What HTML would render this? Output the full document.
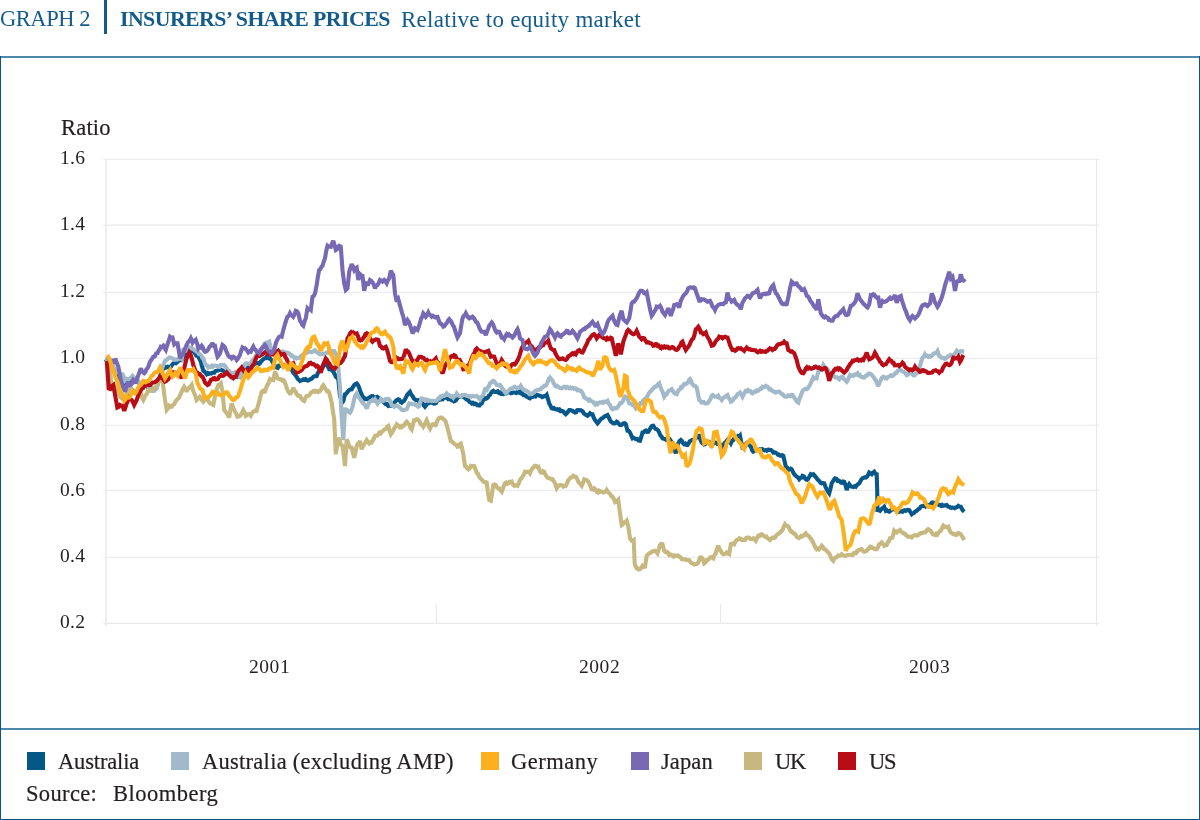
<!DOCTYPE html>
<html><head><meta charset="utf-8">
<style>
html,body{margin:0;padding:0;background:#fff;}
body{width:1200px;height:820px;position:relative;overflow:hidden;font-family:"Liberation Serif",serif;color:#231f20;}
.t{position:absolute;white-space:nowrap;line-height:1;will-change:transform;}
.sw{position:absolute;top:752px;width:18px;height:18px;}
.lg{top:750.8px;font-size:22.5px;-webkit-text-stroke:0.2px #231f20;}
.ax{font-size:19.5px;letter-spacing:0.35px;}
</style></head><body>
<div class="t" style="left:-0.5px;top:8.4px;font-size:22.5px;letter-spacing:-0.45px;color:#125b8a;">GRAPH 2</div>
<div style="position:absolute;left:104.4px;top:0;width:2.2px;height:33.6px;background:#125b8a;"></div>
<div class="t" style="left:120px;top:8.8px;font-size:21.8px;letter-spacing:-0.55px;color:#125b8a;"><b>INSURERS’ SHARE PRICES</b></div>
<div class="t" style="left:401px;top:8px;font-size:23px;letter-spacing:0.27px;color:#125b8a;">Relative to equity market</div>
<div style="position:absolute;left:0;top:56px;width:1200px;height:2px;background:#4d8aaa;"></div>
<div style="position:absolute;left:0;top:728px;width:1200px;height:2px;background:#4d8aaa;"></div>
<div style="position:absolute;left:0;top:56px;width:1px;height:764px;background:#0a5583;"></div>
<div style="position:absolute;left:1199px;top:56px;width:1px;height:764px;background:#0a5583;"></div>
<div style="position:absolute;left:0;top:819px;width:1200px;height:1px;background:#0a5583;"></div>
<svg id="chart" width="1200" height="820" style="position:absolute;left:0;top:0">
<g stroke="#e9e9eb" stroke-width="1.1" fill="none">
<path d="M103.3 159.3H1099M103.3 225.1H1099M103.3 292.2H1099M103.3 358.2H1099M103.3 425.3H1099M103.3 490.3H1099M103.3 557.2H1099M103.3 623.4H1099"/>
<path d="M1096.5 159V626M436.3 604V623M720.5 604V623"/>
<path d="M106.1 159V626" stroke-width="2" stroke="#eeeef2"/>
</g>
<g id="series" fill="none" stroke-width="4.1" stroke-linejoin="miter" stroke-miterlimit="2.5" stroke-linecap="butt">
<path stroke="#07588a" d="M105,359.2 106.2,359.9 107.5,360.6 108.8,362.5 110,363.3 111.1,364.2 112.2,366.7 113.3,368.3 114.4,370.3 115.6,372 116.7,375 117.8,376.7 118.9,377.5 120,380 121.2,382.4 122.5,385 123.8,385.5 125,387.5 126.2,384.7 127.5,383.3 128.8,382.4 130,381.7 131.2,381 132.5,379.2 133.8,379.3 135,380.8 136.1,380.6 137.2,381.6 138.3,381.7 139.4,383.6 140.6,384 141.7,385 142.9,385 144.2,386.3 145.4,384.8 146.7,385.8 147.8,387.3 148.9,387.1 150,388.3 151.1,388.2 152.2,388.7 153.3,390 154.4,388.8 155.6,388.9 156.7,387.5 157.8,383.3 158.9,380.4 160,376.7 161.1,374.2 162.2,370.9 163.3,368.3 164.4,368.1 165.6,367 166.7,367.5 167.8,366.7 168.9,367 170,367.5 171.1,366.4 172.2,364.6 173.3,363.3 174.6,363 175.8,363.3 177.1,362.2 178.3,360.8 179.4,360.4 180.6,359.9 181.7,360 182.8,358.3 183.9,355.9 185,353.3 186.1,352.3 187.2,352.4 188.3,351.7 189.4,351.2 190.6,351.2 191.7,350 192.8,351.5 193.9,351.8 195,353.3 196.1,355.3 197.2,354.9 198.3,356.7 199.6,359.1 200.8,361.7 202.1,366.7 203.3,370.8 204.4,371.3 205.6,373 206.7,374.2 207.8,373.1 208.9,373.9 210,373.3 211.1,373.5 212.2,372.9 213.3,372.5 214.4,372.6 215.6,371 216.7,370.8 217.8,370.6 218.9,369.9 220,369.2 221.1,369.9 222.2,370.2 223.3,370.8 224.4,372 225.6,372.7 226.7,372.5 227.8,373 228.9,373.9 230,374.2 231.1,373.7 232.2,375.1 233.3,375 234.4,375.5 235.6,376.4 236.7,375.8 237.8,376.7 238.9,376 240,376.7 241.1,374.8 242.2,373.7 243.3,371.7 244.4,370 245.6,370 246.7,369.2 247.8,367.8 248.9,366.8 250,366.7 251.1,365.3 252.2,366 253.3,365 254.4,363.8 255.6,363.4 256.7,363.3 257.8,363.1 258.9,364 260,363.3 261.1,361.2 262.2,360.5 263.3,359.2 264.4,358.5 265.6,358.2 266.7,356.7 267.8,357.8 268.9,358.4 270,358.3 271.1,359.6 272.2,361.5 273.3,363.3 274.4,364.4 275.6,366.8 276.7,367.5 277.8,367.8 278.9,365.7 280,365.8 281.1,365 282.2,364.8 283.3,365 284.4,364.8 285.6,365.5 286.7,365.8 287.8,366.5 288.9,366.5 290,367.5 291.1,368.3 292.2,370.8 293.3,372.7 294.4,373.8 295.6,375.6 296.7,376.8 297.8,379 298.9,379.9 300,381 301.1,380.5 302.2,380.1 303.3,379.3 304.4,379.9 305.6,379.1 306.7,380.2 307.8,380.6 308.9,380.1 310,379.3 311.1,379.1 312.2,378.2 313.3,376.8 314.4,376.3 315.6,376.1 316.7,376 317.9,372.8 319.2,371 320.3,370.1 321.4,368 322.5,367.7 323.6,365.5 324.7,364.4 325.8,363.5 326.9,364.8 328.1,367.1 329.2,369.3 330.3,369.1 331.4,369.5 332.5,371 333.6,372.3 334.7,374.1 335.8,376.8 337.1,377.8 338.3,379.3 340,396 341,398.5 342,402.7 343.3,401 345,394.3 346.1,393.9 347.2,392.3 348.3,391 349.4,389.8 350.6,389.4 351.7,389.3 352.9,387 354.2,385.2 355.4,384.1 356.7,383.5 357.9,384.9 359.2,387.7 360.4,391.6 361.7,394.3 362.8,396.9 363.9,397.6 365,399.3 366.1,399.3 367.2,398.6 368.3,399.3 369.4,397.5 370.6,396.8 371.7,396 372.8,396.1 373.9,397.7 375,397.7 376.1,397.1 377.2,396.8 378.3,397.7 379.6,399.3 380.8,399.3 381.9,400.5 383.1,400.9 384.2,402.7 385.6,403.9 386.9,404 388.3,406 389.4,405.5 390.6,405.7 391.7,404.3 392.8,404.1 393.9,403 395,401.8 396.1,400.5 397.2,399.9 398.3,399.3 399.4,399.8 400.6,402.1 401.7,402.7 402.8,401.6 403.9,400.9 405,399.3 406.1,397.1 407.2,394.9 408.3,393.5 410,391.8 411.2,394.5 412.5,396 413.8,398.5 415,399.3 416.1,400.2 417.2,400.5 418.3,400.2 419.4,401.6 420.6,402.3 421.7,402.7 422.8,403.6 423.9,405.5 425,406.8 426.1,405.4 427.2,403.8 428.3,403.5 429.4,402.4 430.6,402.6 431.7,402.7 432.8,402.5 433.9,403.6 435,403.5 436.1,402.9 437.2,400.6 438.3,399.3 439.4,399.8 440.6,399.6 441.7,398.5 442.8,399.1 443.9,397.7 445,397.7 446.1,397.7 447.2,398.3 448.3,399.3 449.4,399.1 450.6,399.4 451.7,400.2 452.8,400.7 453.9,401.5 455,401 456.1,400.2 457.2,398.2 458.3,396.8 459.4,396.8 460.6,396.8 461.7,396 462.8,395.8 463.9,397.4 465,397.7 466.1,399.3 467.2,399.9 468.3,400.2 469.4,401.8 470.6,402.4 471.7,403.5 472.8,402.9 473.9,404 475,403.5 476.1,403.8 477.2,405.2 478.3,405.2 479.4,405.5 480.6,403.9 481.7,403.5 482.9,400.4 484.2,397.7 485.4,398.8 486.7,398.3 487.8,397.6 488.9,395.5 490,395 491.1,392.9 492.2,391.6 493.3,390.8 494.4,391.8 495.6,392 496.7,391.7 497.8,391.3 498.9,392.8 500,392.5 501.1,393.9 502.2,393.9 503.3,394.2 504.6,393.6 506,393.6 507.3,392.5 508.7,392 510,392.5 511.2,393.3 512.5,392.8 513.8,392.5 515,392.5 516.2,393.1 517.5,392 518.8,392.6 520,391.7 521.1,393.4 522.2,393.4 523.3,395 524.4,395.1 525.6,395.8 526.7,396.7 527.8,396.8 528.9,397.9 530,398.3 531.1,397.3 532.2,397.1 533.3,396.7 534.4,395.5 535.6,396.3 536.7,395 537.8,395 538.9,395.5 540,395.8 541.1,396.3 542.2,397.1 543.3,396.7 544.4,396 545.6,396.3 546.7,395 548,399.2 549.2,403.3 550.5,405.9 551.7,408.3 552.8,408.6 553.9,408 555,409.2 556.1,409.4 557.2,409.2 558.3,410 559.4,409.4 560.6,411.1 561.7,410.8 563.1,411.3 564.4,413 565.8,414.2 566.9,413.2 568.1,411.5 569.2,410 570.3,410 571.4,410.6 572.5,410.8 573.8,411.7 575,412.5 576.1,412.2 577.2,410.1 578.3,410 579.4,410.4 580.6,410.1 581.7,410.8 582.8,411.5 583.9,413.6 585,414.2 586.2,415 587.5,415.8 588.8,414.7 590,413.3 591.2,414.2 592.5,414.2 593.8,417.8 595,420 596.2,421.5 597.5,423.3 598.6,422.1 599.7,420.6 600.8,419.2 601.9,418.4 603.1,417.9 604.2,416.7 605.3,416 606.4,415.6 607.5,415 608.8,417.5 610,420 611.1,421.9 612.2,422.6 613.3,423.3 614.4,423.4 615.6,423 616.7,421.7 617.8,422.4 618.9,424 620,425 621.1,425.2 622.2,424.5 623.3,423.3 624.5,423.1 625.8,424.2 627.5,430.8 628.8,431 630,432.5 631.2,435.3 632.5,438.3 633.6,437.8 634.7,438.4 635.8,439.2 637.2,439 638.6,440.6 640,440.8 641.2,437.2 642.5,432.5 643.8,432.4 645,430.8 646.1,430.5 647.2,431.8 648.3,431.7 649.5,429.9 650.8,427.5 652,426 653.3,425.8 654.4,427.6 655.6,428.9 656.7,429.2 658,430.3 659.2,432.5 660.3,435.2 661.4,436.2 662.5,438.3 663.8,438.7 665,439.2 666.1,439.8 667.2,439.2 668.3,438.3 669.5,438.9 670.8,440.8 672.5,443.3 673.6,446.5 674.7,450 675.8,453.3 677,448 678.3,443.3 679.5,441.1 680.8,440 681.9,441.1 683.1,443.2 684.2,444.2 685.3,443.6 686.4,444.8 687.5,445 688.6,443.5 689.7,441.3 690.8,440.8 691.9,440 693.1,440 694.2,439.2 695.5,438.4 696.7,437.5 698,435.9 699.2,435.8 700.5,440 701.7,442.5 702.8,443.6 703.9,444.5 705,444.2 706.1,442.7 707.2,442.1 708.3,441.7 709.4,442.2 710.6,444.9 711.7,445.8 712.8,444.3 713.9,442.9 715,442.5 716.1,442.6 717.2,443.8 718.3,443.3 719.4,445 720.6,445.1 721.7,446.7 722.8,444.7 723.9,444.7 725,442.5 726.2,441.4 727.5,440 728.6,441.5 729.7,441.5 730.8,443.3 731.9,440.8 733.1,440.3 734.2,438.3 735.5,437.8 736.7,437.5 737.8,436.2 738.9,437.2 740,435.8 741.2,441.9 742.5,447.5 743.8,447.2 745,445.8 746.2,443.4 747.5,442.5 748.8,444.8 750,445.8 751.1,447 752.2,450.4 753.3,451.7 754.4,451.1 755.6,450.3 756.7,450 757.8,449.8 758.9,450.2 760,449.2 761.1,449 762.2,449.1 763.3,450 764.4,450.3 765.6,450.1 766.7,450.8 767.8,449.8 768.9,449.7 770,450 771.1,450 772.2,451.1 773.3,452.5 774.4,452.4 775.6,452.7 776.7,453.3 777.8,454.6 778.9,454.6 780,455.8 781.1,455.8 782.2,455.2 783.3,455.8 784.5,461 785.8,466.7 787,467.5 788.3,470 789.4,469.3 790.6,468.6 791.7,469.2 793,472.1 794.2,474.2 795.5,475.5 796.7,476.7 798,477.4 799.2,479.2 800.3,478 801.4,477.7 802.5,475.8 803.8,476.3 805,478.3 806.2,479.7 807.5,480 808.6,477.9 809.7,476.1 810.8,474.2 812,474.8 813.3,474.2 814.4,475.4 815.6,476.9 816.7,478.3 818,479.9 819.2,480.8 820.5,482.9 821.7,483.3 823,483 824.2,483.3 825.5,486.8 826.7,489.2 828,491.6 829.2,493.3 830.5,488.5 831.7,483.3 832.8,481.5 833.9,479.7 835,478.3 836.2,478.7 837.5,480.8 838.6,480.7 839.7,481.2 840.8,482.5 841.9,482.7 843.1,481.5 844.2,481.7 845.5,485.2 846.7,490 848,486.4 849.2,484.2 850.3,485.6 851.4,486.5 852.5,486.7 853.6,487 854.7,486.3 855.8,486.7 856.9,485.1 858.1,484.1 859.2,483.3 860.3,481.6 861.4,479.4 862.5,478.3 863.6,477.9 864.7,477.3 865.8,477.5 866.9,476.7 868.1,475 869.2,472.5 870.5,473.4 871.7,474.2 873,472.5 874.2,471.7 875.5,473.8 876.7,474.2 877.2,490 877.5,510 878.8,510.1 880,510.8 881.2,509.3 882.5,508.3 884.2,506.7 885.8,510.8 886.9,510.2 888.1,511.2 889.2,511.7 890.3,510.8 891.4,510 892.5,509.2 893.6,508.9 894.7,509.7 895.8,510 896.9,509.7 898.1,510.7 899.2,511.7 900.3,511 901.4,511.5 902.5,511.7 903.6,510.6 904.7,510.2 905.8,510.8 906.9,510.2 908.1,509.8 909.2,510 910.5,512.3 911.7,514.2 912.8,513.4 913.9,513 915,511.7 916.1,511.2 917.2,510.4 918.3,509.2 919.5,508.6 920.8,506.7 921.9,506.2 923.1,505.8 924.2,505.8 925.3,506.4 926.4,504.6 927.5,505 928.6,505.1 929.7,504.7 930.8,504.2 932,502.5 933.3,502.5 934.4,503.4 935.6,503.7 936.7,503.3 937.8,504.1 938.9,504.9 940,505 941.1,505.8 942.2,504.9 943.3,505.8 944.4,505.6 945.6,505.3 946.7,505 948,506.5 949.2,506.7 950.3,507.5 951.4,507.8 952.5,507.5 953.6,507.7 954.7,508.2 955.8,507.5 957,507 958.3,505.8 959.5,506.6 960.8,506.7 962.5,510 964.2,511.7"/>
<path stroke="#a1b9c9" d="M105,359.2 106.2,359.3 107.5,359.6 108.8,360.4 110,361.7 111.1,363.1 112.2,364.3 113.3,366.7 114.4,369 115.6,370.1 116.7,371.7 117.8,372.5 118.9,373 120,373.3 121.2,374.1 122.5,374.2 123.8,377.1 125,380 126.2,378.7 127.5,379.2 128.8,379.3 130,378.3 131.2,377.5 132.5,375.8 133.8,377.1 135,378.3 136.2,379.2 137.5,380 138.8,382.4 140,384.2 141.1,383.1 142.2,384 143.3,383.3 144.4,383.4 145.6,383.7 146.7,385 147.8,385.7 148.9,387.6 150,388.3 151.1,388.6 152.2,390.4 153.3,390.8 154.4,390.8 155.6,389.1 156.7,388.3 157.8,384.2 158.9,380.5 160,376.7 161.2,372 162.5,366.7 163.8,364.2 165,360.8 166.1,360.2 167.2,359.4 168.3,358.3 169.4,357.5 170.6,357.7 171.7,358.3 172.8,358.4 173.9,359.9 175,360 176.1,359.4 177.2,359.6 178.3,359.2 179.4,358.3 180.6,358.4 181.7,359.2 183.3,350 184.4,349.9 185.6,350.8 186.7,350.8 187.8,350 188.9,348.9 190,347.5 191.1,347.7 192.2,348.7 193.3,349.2 194.4,350 195.6,350.8 196.7,351.7 197.8,351.8 198.9,354.1 200,354.2 201.1,355 202.2,357.8 203.3,358.3 204.6,362.4 205.8,365 207.1,365.4 208.3,367.5 209.4,366.9 210.6,366.9 211.7,365.8 212.8,366.6 213.9,365.7 215,365.8 216.1,365.7 217.2,365.9 218.3,366.7 219.4,366.9 220.6,365 221.7,365 222.8,365.4 223.9,364.9 225,365.8 226.1,367.5 227.2,369.9 228.3,370.8 229.4,371 230.6,373 231.7,373.3 232.8,373 233.9,373.5 235,372.5 236.1,374 237.2,374.2 238.3,375.8 239.6,377 240.8,376.7 242.1,371.7 243.3,366.7 244.4,364.7 245.6,363.5 246.7,363.3 247.8,363.6 248.9,363.8 250,364.2 251.1,362.4 252.2,360.8 253.3,360 254.4,358.1 255.6,356.3 256.7,355 257.8,353.9 258.9,350.8 260,350 261.1,349.1 262.2,347.8 263.3,345.8 264.4,344 265.6,344.4 266.7,342.5 267.9,342.5 269.2,341.7 270.4,346.6 271.7,350 272.8,350.5 273.9,351.4 275,352.5 276.4,352 277.8,352.9 279.2,351.7 280.6,351.9 281.9,351.4 283.3,351.7 284.4,352.1 285.6,352.4 286.7,353.3 287.8,352.8 288.9,353.2 290,354.2 291.1,355.7 292.2,355.5 293.3,356.8 294.4,358.2 295.6,357.5 296.7,358.5 297.8,357.8 298.9,358 300,357.7 301.1,356 302.2,355.2 303.3,354.3 304.4,354.3 305.6,353.3 306.7,351.8 307.8,352.4 308.9,352 310,351.8 311.2,352.1 312.5,351.8 313.8,350.7 315,350.2 316.2,351.8 317.5,352.7 318.6,352.4 319.7,354.2 320.8,354.3 321.9,353.9 323.1,354.2 324.2,353.5 325.3,353.5 326.4,352.6 327.5,352.7 328.6,351.6 329.7,352.9 330.8,351.8 331.9,350.9 333.1,351.2 334.2,351 335.4,353.2 336.7,356 338.3,367.7 340,387.7 341.7,417.7 343.3,440.2 345,409.3 346.2,409.4 347.5,410.2 348.8,411.9 350,412.7 351.2,410.6 352.5,406.8 353.8,401 355,396 356.7,393.5 357.9,395.9 359.2,397.7 360.4,399.4 361.7,401.8 362.8,403 363.9,403.9 365,405.2 366.7,408.5 367.9,405 369.2,402.7 370.4,401.2 371.7,401 372.8,399.9 373.9,400.6 375,399.3 376.2,401.4 377.5,403.5 378.6,401.6 379.7,401.4 380.8,399.3 382.1,401 383.3,401 384.4,400.3 385.6,399.2 386.7,399.3 387.9,398.7 389.2,399.3 390.4,401.5 391.7,405.2 392.9,405.7 394.2,406.8 395.3,405.8 396.4,405.8 397.5,406 398.6,406.4 399.7,407.8 400.8,408.5 401.9,409.8 403.1,410.1 404.2,410.2 405.4,409.6 406.7,409.3 407.9,406.2 409.2,403.5 410.3,403.8 411.4,403.8 412.5,404.3 413.6,404.3 414.7,404.1 415.8,405.2 416.9,405.1 418.1,406.6 419.2,406 420.4,401.6 421.7,398.5 422.8,398.8 423.9,399.3 425,399.3 426.1,400.5 427.2,399.9 428.3,401 429.4,400.6 430.6,400.5 431.7,401 432.8,400.8 433.9,400.9 435,401 436.1,401 437.2,400 438.3,398.5 439.4,398.6 440.6,396.5 441.7,396.8 442.9,395.6 444.2,396 445.4,395.1 446.7,393.5 447.8,395 448.9,395.1 450,396 451.1,396.7 452.2,396.2 453.3,397.7 454.4,396.1 455.6,395.7 456.7,393.5 457.8,394.9 458.9,395.8 460,396 461.1,396.6 462.2,395 463.3,395.2 464.4,394.8 465.6,395.1 466.7,396 467.8,396 468.9,396.3 470,396 471.1,396.8 472.2,396.4 473.3,396 474.4,396.3 475.6,396.5 476.7,396 477.8,397 478.9,398.3 480,399.3 481.2,396.8 482.5,396 483.8,393.2 485,389.3 486.7,390 487.8,387.3 488.9,386.3 490,383.3 491.1,382.7 492.2,381.3 493.3,380.8 494.4,381.5 495.6,383.2 496.7,385 497.8,385.2 498.9,385.4 500,385 501.2,386.4 502.5,389.2 503.6,389.8 504.7,392 505.8,393.3 506.9,392.3 508.1,390.9 509.2,390 510.6,388.7 511.9,388.5 513.3,387.5 514.7,386.9 516.1,387.7 517.5,388.3 518.6,387.4 519.7,387.5 520.8,385.8 521.9,387.5 523.1,389.3 524.2,390 525.3,390.5 526.4,390.7 527.5,391.7 528.6,392.1 529.7,394.2 530.8,394.2 531.9,394 533.1,392.7 534.2,392.5 535.3,390.8 536.4,390.8 537.5,390 538.6,390 539.7,389.3 540.8,389.2 541.9,387.6 543.1,387.2 544.2,385.8 545.5,385.8 546.7,384.2 547.8,381.5 548.9,378.9 550,377.5 551.2,378.9 552.5,380.8 553.8,383.2 555,385.8 556.1,386.4 557.2,385.9 558.3,386.7 559.4,387.8 560.6,388.2 561.7,388.3 562.8,387.8 563.9,386.7 565,386.7 566.1,387.8 567.2,386.9 568.3,387.5 569.4,388.3 570.6,387.5 571.7,388.3 572.8,387.8 573.9,388.8 575,388.3 576.1,388.5 577.2,390.2 578.3,390 579.4,390.6 580.6,390.6 581.7,391.7 583,394.1 584.2,397.5 585.3,397.9 586.4,398.9 587.5,399.2 588.6,400.5 589.7,399.6 590.8,400.8 591.9,401.4 593.1,401.9 594.2,403.3 595.3,404.5 596.4,403.3 597.5,404.2 598.6,402.8 599.7,402.3 600.8,402.5 601.9,402 603.1,402.7 604.2,401.7 605.3,402.1 606.4,401.5 607.5,400.8 608.8,403.8 610,405 611.2,407.9 612.5,409.2 613.6,408.6 614.7,408 615.8,408.3 616.9,408 618.1,406.5 619.2,405 620.3,403.1 621.4,403.1 622.5,401.7 623.8,399 625,396.7 626.2,397.3 627.5,398.3 629.2,403.3 630.3,403.6 631.4,403.8 632.5,405 633.6,405.2 634.7,406.8 635.8,408.3 636.9,406.9 638.1,406.9 639.2,405 640.3,403.2 641.4,403.6 642.5,401.7 643.6,400 644.7,399.2 645.8,398.3 647,396.8 648.3,394.2 650,391.7 651.2,391 652.5,389.2 653.6,388.2 654.7,386.7 655.8,386.7 656.9,385.5 658.1,384.2 659.2,383.3 660.5,387.4 661.7,390 663,392.8 664.2,396.7 665.3,395.1 666.4,394.6 667.5,392.5 668.9,390.6 670.3,390.1 671.7,389.2 673.3,391.7 674.4,393.1 675.6,393.8 676.7,394.2 677.8,391.7 678.9,390 680,389.2 681.1,387 682.2,387.2 683.3,385 684.4,384 685.6,384.3 686.7,383.3 687.8,382.7 688.9,380.3 690,379.2 691.1,380.7 692.2,383.9 693.3,385 694.4,386 695.6,386.2 696.7,387.5 698,394.1 699.2,400 700.5,400.9 701.7,402.5 702.8,402.4 703.9,402.1 705,403.3 706.1,403.5 707.2,403.5 708.3,402.5 709.4,400.5 710.6,398.8 711.7,395.8 712.8,395.2 713.9,395.9 715,396.7 716.1,396.4 717.2,396.9 718.3,395.8 719.4,398 720.6,398.4 721.7,400 722.8,398.5 723.9,397.7 725,396.7 726.2,395.8 727.5,395 728.6,398 729.7,398.9 730.8,401.7 731.9,401.1 733.1,399.9 734.2,398.3 735.3,397.5 736.4,396.1 737.5,394.2 738.8,393.5 740,392.5 741.2,394.3 742.5,396.7 743.6,394.4 744.7,392.5 745.8,390.8 746.9,391.3 748.1,390 749.2,390.8 750.3,391.1 751.4,392.9 752.5,393.3 753.6,392.3 754.7,391.4 755.8,391.7 756.9,390.3 758.1,390.7 759.2,390 760.3,388.6 761.4,388.7 762.5,386.7 763.6,387.1 764.7,387 765.8,385.8 766.9,386.5 768.1,387.3 769.2,389.2 770.3,389 771.4,390.3 772.5,390.8 773.6,391.7 774.7,391.8 775.8,392.5 776.9,391.8 778.1,391.8 779.2,391.7 780.3,392.7 781.4,393.7 782.5,394.2 783.6,395.5 784.7,396.5 785.8,396.7 786.9,396.7 788.1,395.4 789.2,395.8 790.3,396.1 791.4,394.9 792.5,395 793.6,396.8 794.7,398.1 795.8,400 797,401.7 798.3,402.5 799.5,398.6 800.8,395.8 802,392.4 803.3,390 804.4,389.3 805.6,388.8 806.7,389.2 807.8,388.5 808.9,386.5 810,385 811.1,382.2 812.2,379.8 813.3,377.5 814.4,378.7 815.6,378 816.7,378.3 818,372.8 819.2,368.3 820.5,369.7 821.7,370 823.3,365 824.5,366.9 825.8,368.3 826.9,370.3 828.1,369.9 829.2,371.7 830.3,372.5 831.4,373.9 832.5,374.2 833.6,375.9 834.7,377.1 835.8,377.5 836.9,377.2 838.1,378.3 839.2,379.2 840.3,377.7 841.4,377 842.5,376.7 843.9,379.2 845.3,380.2 846.7,381.7 847.8,380.2 848.9,377 850,375 851.1,375.9 852.2,375.4 853.3,375.8 854.7,374.5 856.1,374.6 857.5,373.3 858.6,375.2 859.7,374.9 860.8,376.7 861.9,377.1 863.1,377.4 864.2,377.5 865.3,376.2 866.4,375.6 867.5,375 868.8,373.6 870,373.5 871.2,374.2 872.5,376 873.6,377 874.7,379 875.8,380.2 877,383.4 878.3,386 879.5,382.6 880.8,380.2 882,377.6 883.3,376.8 884.4,377.1 885.6,378.3 886.7,378.5 887.8,377.1 888.9,376.5 890,376 891.1,375.2 892.2,376 893.3,375.2 894.4,374.5 895.6,372.7 896.7,372.7 897.8,370.8 898.9,370.2 900,369.3 901.1,370.2 902.2,371.2 903.3,371.8 904.4,372.2 905.6,373.5 906.7,375.2 907.8,374.7 908.9,373.4 910,372.7 911.1,373.1 912.2,374 913.3,375.2 914.4,375.4 915.6,373.7 916.7,373.5 917.8,371.1 918.9,368.2 920,366 921.2,361.7 922.5,357.7 923.8,356.7 925,354.3 926.1,356 927.2,355.7 928.3,356.8 929.4,356 930.6,356.7 931.7,356 932.8,354.6 933.9,353.4 935,353.5 936.2,353 937.5,351 939.2,356 940.3,356.4 941.4,357.7 942.5,357.7 943.6,357.8 944.7,358.9 945.8,358.5 946.9,357.6 948.1,356.2 949.2,356 950.5,355.1 951.7,356 953,355.2 954.2,354.3 955.5,352.9 956.7,351 958,352.6 959.2,352.7 960.5,351.1 961.7,351 963,351.6 964.2,351.8"/>
<path stroke="#c6b87f" d="M106.8,360 107.9,362.8 109,366 110.5,375 111.5,383 112.5,384 113.5,385 114.6,386 115.6,387.9 116.7,390 118,392.5 119.2,395 120.5,397.4 121.7,398.3 122.8,397.1 123.9,397.2 125,396.7 126.2,394.7 127.5,391.7 128.8,390.8 130,388.3 131.2,388.6 132.5,390 133.6,390.4 134.7,393 135.8,393.3 137.2,393.6 138.6,392.2 140,391.7 141.1,393.7 142.2,398 143.3,400 144.6,397.3 145.8,395 147.1,393.2 148.3,390 149.6,390.6 150.8,390.8 151.9,390.6 153.1,388.5 154.2,388.3 155.4,387.6 156.7,385.8 157.9,382.4 159.2,380 160.4,378.2 161.7,376.7 163.3,386.7 165,400 166.7,410 167.9,408.5 169.2,405.8 170.4,406.8 171.7,406.7 172.9,404.9 174.2,404.2 175.4,401.6 176.7,400 177.9,398.6 179.2,397.5 180.4,394.6 181.7,391.7 182.9,389 184.2,386.7 185.4,388.5 186.7,391.7 187.9,389.1 189.2,387.5 190.4,386.7 191.7,385 192.9,389.9 194.2,393.3 195.4,395.8 196.7,400 197.8,399 198.9,398.3 200,396.7 201.1,397.5 202.2,400.6 203.3,401.7 204.4,399.9 205.6,399.6 206.7,398.3 207.8,400.1 208.9,401.9 210,403.3 211.1,403.5 212.2,404.3 213.3,405 214.6,398.5 215.8,391.7 217.1,388.2 218.3,385 219.6,384.4 220.8,383.3 222.5,391.7 224.2,410 225.4,411.6 226.7,413.3 227.9,415.3 229.2,417.5 230.4,409.5 231.7,403.3 232.9,406.9 234.2,410 235.3,412.2 236.4,414 237.5,416.7 238.6,416.6 239.7,416.1 240.8,415 242.1,412.4 243.3,410 244.6,412.3 245.8,415.8 247.1,415 248.3,414.2 249.6,414.3 250.8,415.8 252.1,413.1 253.3,411.7 254.4,411.3 255.6,410.4 256.7,410.8 257.9,406.1 259.2,401.7 260.4,396.7 261.7,391.7 262.8,390.9 263.9,391.9 265,391.7 266.2,387.6 267.5,385 268.8,382.5 270,379.2 271.1,380 272.2,379.8 273.3,380 275,371.7 276.2,374.2 277.5,378.3 278.8,378.8 280,379.2 281.1,379.2 282.2,380.5 283.3,380 284.6,381.8 285.8,385 287.1,389 288.3,391.7 289.6,393.4 290.8,393.3 292.1,390.9 293.3,387.7 294.4,390.5 295.6,391.5 296.7,394.3 297.8,395.7 298.9,395.4 300,396 301.4,398.5 302.8,400.1 304.2,401 305.4,397.9 306.7,396 307.8,396 308.9,395.6 310,394.3 311.1,392.4 312.2,391.8 313.3,391 314.4,391.7 315.6,390.9 316.7,391.8 317.8,392.2 318.9,390.9 320,391 321.1,389.6 322.2,386.5 323.3,385.2 324.6,387.3 325.8,389.3 326.9,391.2 328.1,391 329.2,392.7 330.4,397.3 331.7,402.7 332.9,411 334.2,419.3 335.8,454.3 337.1,445.7 338.3,437.7 339.6,440.2 340.8,444.3 342.5,446 343.8,455.4 345,466 346.7,439.3 347.9,442 349.2,446 350.4,447.6 351.7,447.7 352.9,453 354.2,457.7 355.4,452.6 356.7,446 357.8,443.7 358.9,443.2 360,441 361.7,449.3 362.9,446.1 364.2,444.3 365.4,442.3 366.7,440.2 367.9,442.1 369.2,443.5 370.3,442.4 371.4,442.5 372.5,441 373.8,438.6 375,436 376.1,435.6 377.2,435.6 378.3,434.3 379.4,432.8 380.6,433.5 381.7,431.8 382.8,431.2 383.9,429.9 385,429.3 386.1,428.7 387.2,426.7 388.3,426 389.6,431 390.8,434.3 392.1,432.4 393.3,430.2 394.4,428 395.6,426.7 396.7,424.3 397.8,425.3 398.9,426 400,427.7 401.1,427.6 402.2,425.8 403.3,426 404.4,425.2 405.6,422.8 406.7,421.8 407.9,423.3 409.2,424.3 410.4,427.7 411.7,429.3 412.9,424.9 414.2,420.2 415.3,420.2 416.4,419.3 417.5,419.3 418.6,420.1 419.7,421.8 420.8,424.3 422.1,424.9 423.3,426.8 424.4,424.8 425.6,422.3 426.7,420.2 427.8,423 428.9,426.4 430,428.5 431.2,425.7 432.5,424.3 433.6,424.1 434.7,425.2 435.8,425.2 436.9,421.8 438.1,419.3 439.2,417.7 440.3,417.7 441.4,417.5 442.5,418.5 443.6,419.3 444.7,420.2 445.8,421.8 447.1,426.6 448.3,431 449.6,436.2 450.8,441 451.9,441.3 453.1,442.9 454.2,443.5 455.3,444.6 456.4,445 457.5,446.8 458.6,446.5 459.7,444.1 460.8,443.5 462.1,448.3 463.3,454.3 465,466 466.1,466.4 467.2,468.4 468.3,469.3 469.6,468.3 470.8,466 471.9,466.5 473.1,465.8 474.2,466 475.4,468.9 476.7,472.7 477.8,473.5 478.9,476.3 480,477.7 481.1,479.1 482.2,480.1 483.3,481.7 484.4,482.2 485.6,482.1 486.7,482.5 487.9,492 489.2,500 490.8,500.8 492.1,493.3 493.3,485 494.6,484.5 495.8,485 497.1,487.4 498.3,488.3 499.4,488.6 500.6,490.6 501.7,491.7 502.8,488.7 503.9,485.6 505,483.3 506.1,482.5 507.2,483.8 508.3,483.3 509.4,481.9 510.6,482.3 511.7,481.7 513,484.5 514.2,485.8 515.3,485.2 516.4,485.3 517.5,485.8 518.8,483.1 520,480 521.2,478.4 522.5,476.7 523.8,474.5 525,471.7 526.2,472.3 527.5,471.7 528.8,471.9 530,473.3 531.2,470.5 532.5,468.3 533.6,467.1 534.7,465.8 535.8,465.8 537,467 538.3,466.7 539.5,470.1 540.8,472.5 541.9,472.6 543.1,471.1 544.2,471.7 545.5,474.8 546.7,476.7 548,477.9 549.2,478.3 550.3,478.5 551.4,479.3 552.5,479.2 553.8,481.2 555,483.3 556.7,488.3 557.8,486.7 558.9,485.4 560,485 561.1,485.1 562.2,485.3 563.3,486.7 564.5,486 565.8,485.8 567,483.3 568.3,480 569.5,479.1 570.8,477.5 572,477.3 573.3,475.8 574.5,476.6 575.8,476.7 577,478.8 578.3,481.7 579.4,483.2 580.6,484.3 581.7,485.8 583,483 584.2,479.2 585.5,479.6 586.7,480 588,481.2 589.2,483.3 590.5,486.5 591.7,489.2 593,489.6 594.2,488.3 595.5,489.5 596.7,491.7 597.8,492.4 598.9,490.8 600,491.7 601.1,491.5 602.2,491.8 603.3,492.5 604.4,492.1 605.6,491.6 606.7,490 608,492.1 609.2,493.3 610.3,494.1 611.4,496.3 612.5,496.7 613.8,498.9 615,501.7 616.1,500.7 617.2,501.3 618.3,500 620,513.3 621.7,525 623,524 624.2,522.5 625.5,522 626.7,520.8 628.3,526.7 630,538.3 631.7,540.8 632.7,540.7 633.7,540 634.7,563.3 635.7,566.7 636.7,568.3 637.8,568.5 638.9,569.5 640,569.2 641.2,567.9 642.5,565.8 643.8,566.9 645,566.7 646.7,555.8 648,554.4 649.2,553.3 650.5,552.9 651.7,551.7 652.8,551.5 653.9,550.8 655,550.8 656.2,551.5 657.5,553.3 658.8,549.4 660,545 661.2,543.8 662.5,544.2 664.2,550.8 665.5,552 666.7,551.7 668,552.7 669.2,555 670.3,554.4 671.4,554.8 672.5,555.8 673.6,556.6 674.7,555.5 675.8,555.8 676.9,555.5 678.1,555.6 679.2,556.7 680.5,557.1 681.7,559.2 682.8,559.5 683.9,559.4 685,559.2 686.1,559.8 687.2,560.2 688.3,560 689.4,560.3 690.6,562.4 691.7,563.3 692.8,563.4 693.9,564.5 695,564.2 696.1,564.2 697.2,563.8 698.3,562.5 700,557.5 701.7,557.5 703,559.6 704.2,563.3 705.5,562.3 706.7,560 707.8,559.9 708.9,559.1 710,557.5 711.1,557.1 712.2,557.5 713.3,558.3 714.5,555.1 715.8,553.3 717,548.7 718.3,545.8 719.5,548.9 720.8,550.8 722,553.1 723.3,554.2 724.4,553.9 725.6,553.7 726.7,552.5 728,553.6 729.2,554.2 730.8,544.2 731.9,543.8 733.1,543.5 734.2,544.2 735.5,541.4 736.7,540 738,539.6 739.2,538.3 740.5,538.6 741.7,540 742.8,539.7 743.9,539.9 745,540 746.2,537.9 747.5,537.5 748.6,537.6 749.7,538.2 750.8,539.2 752,539.1 753.3,538.3 754.5,539.3 755.8,540.8 757,538 758.3,535.8 759.4,536.1 760.6,534.7 761.7,534.2 763,535.6 764.2,535.8 765.3,536.8 766.4,536.6 767.5,538.3 768.8,539 770,540 771.2,538.6 772.5,537.5 773.8,538 775,537.5 776.2,535.6 777.5,534.2 778.8,533.7 780,532.5 781.2,531.3 782.5,530 783.8,526.6 785,524.2 786.2,525.7 787.5,525.8 788.8,527.2 790,530 791.1,531.7 792.2,531.6 793.3,533.3 794.4,533.5 795.6,535 796.7,536.7 797.8,537.4 798.9,538.1 800,537.5 801.1,536 802.2,536.4 803.3,535.8 804.5,534.5 805.8,533.3 807,535.1 808.3,535.8 809.4,536.6 810.6,538.6 811.7,540 813,542.2 814.2,545 815.5,547.7 816.7,549.2 817.8,548.5 818.9,549.4 820,548.3 821.7,545.8 823,547.1 824.2,549.2 825.5,549.5 826.7,550.8 828,552.4 829.2,553.3 830.5,556.2 831.7,559.2 833.3,560.8 834.5,558.4 835.8,557.5 836.9,557.2 838.1,555.6 839.2,555.8 840.5,555.5 841.7,554.2 842.8,555.1 843.9,555.8 845,555.8 846.1,555.8 847.2,555 848.3,555 849.4,554.8 850.6,554.8 851.7,555 852.8,555.1 853.9,553.1 855,553.3 856.1,553.2 857.2,550.8 858.3,550.8 859.4,549.7 860.6,549.3 861.7,549.2 863,551.2 864.2,551.7 865.5,551.3 866.7,550.8 867.8,549.2 868.9,548.8 870,546.7 871.1,546.8 872.2,547.7 873.3,548.3 874.4,548.7 875.6,549.4 876.7,549.2 878,547.2 879.2,544.2 880.5,543.6 881.7,542.5 883,543.9 884.2,545.8 885.5,545.1 886.7,545 887.8,542.1 888.9,541.2 890,538.3 891.2,538.2 892.5,537.5 894.2,530.8 895.5,532.1 896.7,532.5 897.8,531.1 898.9,530.7 900,530 901.2,531.7 902.5,532.5 903.6,533.5 904.7,533.5 905.8,535 906.9,535.5 908.1,536.8 909.2,536.7 910.5,536.6 911.7,537.5 912.8,536.1 913.9,535.5 915,535 916.1,535.4 917.2,535.6 918.3,535 919.4,533.8 920.6,533.2 921.7,533.3 922.8,532.6 923.9,532.5 925,532.5 926.1,531.4 927.2,529.7 928.3,529.2 929.4,530 930.6,530.8 931.7,532.5 932.8,534.2 933.9,534.6 935,535 936.1,533.7 937.2,534.7 938.3,533.3 939.5,531.3 940.8,530.8 942,528.1 943.3,525.8 944.5,527.1 945.8,526.7 947,527.2 948.3,526.7 949.5,530 950.8,532.5 952,533.2 953.3,534.2 954.5,534.1 955.8,535 956.9,534.7 958.1,533.2 959.2,533.3 960.5,534 961.7,535.8 963,537.7 964.2,540"/>
<path stroke="#b80c16" d="M106.8,361 108.7,388.5 110.3,389 111.8,386.2 113.3,385 114.7,393 116,400.1 117.3,407.5 118.7,406.8 120,405 121.2,405.7 122.5,405.8 124.2,410.8 125.5,407.1 126.7,403.3 127.9,400.6 129.2,397.5 130.4,398.7 131.7,400 132.9,401.9 134.2,405 135.4,402.7 136.7,400 137.9,396.5 139.2,393.3 140.4,391.2 141.7,388.3 142.9,388.2 144.2,386.7 145.4,385.3 146.7,384.2 147.8,384.6 148.9,385.2 150,385 151.1,384 152.2,382.8 153.3,382.5 154.7,382.1 156.1,381.5 157.5,380 158.6,378.8 159.7,377 160.8,375 162.2,377.9 163.6,379.8 165,381.7 166.1,381.1 167.2,380 168.3,379.2 169.4,376.9 170.6,375.5 171.7,373.3 172.8,372.3 173.9,372.6 175,372.5 176.1,373.3 177.2,373.4 178.3,373.3 179.4,375.2 180.6,376.2 181.7,378.3 182.9,373.2 184.2,368.3 185.4,363.2 186.7,358.3 187.9,355.6 189.2,352.5 190.8,355 192.1,359.8 193.3,365 194.4,368.1 195.6,371.3 196.7,373.3 197.8,373 198.9,374.2 200,374.2 201.2,376 202.5,376.7 203.8,379.4 205,382.5 206.2,383.7 207.5,385 208.8,384.2 210,381.7 211.1,379.7 212.2,379.5 213.3,378.3 214.4,378 215.6,379.4 216.7,379.2 217.8,378.9 218.9,377 220,375.8 221.1,375.1 222.2,375.9 223.3,375.8 224.4,374.8 225.6,374 226.7,372.5 227.8,373.6 228.9,375 230,375.8 231.1,377.2 232.2,377.5 233.3,378.3 234.4,377 235.6,376.9 236.7,375 237.9,372 239.2,370 240.4,369.1 241.7,367.5 242.9,369.4 244.2,371.7 245.3,371.9 246.4,370.4 247.5,370.8 248.6,371.1 249.7,369.5 250.8,369.2 251.9,366.4 253.1,364.9 254.2,363.3 255.4,359.8 256.7,356.7 257.8,355.5 258.9,356 260,355.8 261.2,354.9 262.5,354.2 263.6,353.7 264.7,352.3 265.8,351.7 267.1,352.5 268.3,354.2 269.4,353.7 270.6,354.6 271.7,354.2 272.8,354.4 273.9,353.1 275,352.5 276.1,351.4 277.2,351.9 278.3,350.8 279.6,352.7 280.8,355 281.9,354.2 283.1,353.8 284.2,354.2 285.4,357.2 286.7,359.2 287.8,361.7 288.9,363.3 290,365 291.1,364.4 292.2,364 293.3,363.3 294.4,365.9 295.6,370.4 296.7,372.7 297.8,371.9 298.9,371.8 300,371 301.1,370.5 302.2,369.4 303.3,367.7 304.4,367.1 305.6,366.2 306.7,366 308.1,365 309.4,363.1 310.8,362.7 312.2,364.1 313.6,364.1 315,365.2 316.1,366.4 317.2,365.8 318.3,366.8 319.6,369.5 320.8,372.7 322.1,368.1 323.3,364.3 324.6,361.3 325.8,358.5 327.1,360 328.3,362.7 329.4,363.5 330.6,366.4 331.7,367.7 332.8,367.6 333.9,367.8 335,368.5 336.1,366.7 337.2,365.7 338.3,364.3 339.4,363.3 340.6,362.9 341.7,361.8 342.8,360.2 343.9,357.7 345,356 346.2,347.9 347.5,338.3 348.8,336.4 350,333.3 351.1,332.2 352.2,333.4 353.3,332.5 354.4,333.5 355.6,333.5 356.7,333.3 357.9,336 359.2,340 360.4,340.6 361.7,340 362.9,338.6 364.2,336.7 365.4,334.1 366.7,333.3 367.8,334.1 368.9,337.4 370,338.3 371.2,340.3 372.5,341.7 373.8,340.4 375,340 376.1,339.3 377.2,339.4 378.3,340 380,346 381.1,346.4 382.2,348.2 383.3,348.5 384.6,347.4 385.8,346.8 387.1,349.9 388.3,354.3 390,361 391.1,362 392.2,362.1 393.3,361.8 394.4,359.8 395.6,359.8 396.7,357.7 397.8,358.4 398.9,359.3 400,359.3 401.1,359.1 402.2,358.9 403.3,357.7 404.6,354 405.8,349.3 406.9,351.3 408.1,351.6 409.2,353.5 410.3,356.3 411.4,358.6 412.5,361 413.6,361.7 414.7,361.4 415.8,361.8 416.9,360.8 418.1,358.6 419.2,356.8 420.3,356.7 421.4,356.9 422.5,357.7 423.6,357.9 424.7,359.4 425.8,360.2 426.9,359.9 428.1,361.2 429.2,361.8 430.3,361.2 431.4,361.8 432.5,361.8 433.6,360.7 434.7,359.7 435.8,358.5 436.9,361.7 438.1,362.6 439.2,366 440.3,369.1 441.4,370.9 442.5,373.5 443.8,369.9 445,366 446.2,364.2 447.5,361.8 448.6,360.7 449.7,358.2 450.8,356.8 451.9,356.1 453.1,356.6 454.2,355.2 455.3,355.8 456.4,358.2 457.5,359.3 458.6,360.4 459.7,360.1 460.8,361.8 462.1,365.7 463.3,369.3 464.4,369.1 465.6,369 466.7,367.7 467.8,365.7 468.9,365.2 470,362.7 471.1,359.9 472.2,357.1 473.3,354.3 474.4,353.1 475.6,349.6 476.7,348.5 477.8,349.7 478.9,350.4 480,351 481.1,351.3 482.2,352.8 483.3,352.7 484.6,352 485.8,351.7 487.1,351.3 488.3,350.8 489.6,354.2 490.8,356.7 491.9,356.2 493.1,356.6 494.2,356.7 495.4,359.9 496.7,363.3 497.9,364.2 499.2,365 500.4,363.1 501.7,360 502.9,361.7 504.2,364.2 505.4,366 506.7,366.7 507.8,366.8 508.9,367.2 510,367.5 511.2,365.4 512.5,364.2 513.6,363.9 514.7,364.5 515.8,363.3 516.9,361.4 518.1,359.4 519.2,356.7 520.5,352.2 521.7,348.3 522.8,346.3 523.9,344.6 525,343.3 526.1,342.6 527.2,341.9 528.3,340.8 529.5,343.8 530.8,345.8 532,346.7 533.3,349.2 534.4,349.6 535.6,349.9 536.7,349.2 537.8,348.7 538.9,347.3 540,347.5 541.1,346.3 542.2,344.9 543.3,345 544.5,343.2 545.8,342.5 547,342.4 548.3,340.8 549.5,344.7 550.8,348.3 551.9,349.2 553.1,350 554.2,350 555.5,353.6 556.7,355.8 558,357.7 559.2,359.2 560.3,359.1 561.4,358.8 562.5,358.3 563.6,359.2 564.7,359.6 565.8,360 566.9,358.9 568.1,356.7 569.2,355.8 570.3,355.3 571.4,354.1 572.5,353.3 573.6,354.1 574.7,353.2 575.8,354.2 576.9,352.2 578.1,350.6 579.2,350 580.3,351.3 581.4,352.4 582.5,352.5 583.6,350.5 584.7,347.8 585.8,345.8 587,343.5 588.3,340 589.4,339.1 590.6,337.3 591.7,335.8 593,334.6 594.2,334.2 595.5,335.9 596.7,338.3 598,336.5 599.2,335 600.3,335.5 601.4,336.5 602.5,337.5 603.8,338.2 605,338.3 606.1,339.4 607.2,338.1 608.3,339.2 609.4,339 610.6,337.8 611.7,338.3 613.3,345 614.5,349.7 615.8,355.8 617,350.1 618.3,343.3 619.5,348.9 620.8,354.2 622,348.7 623.3,341.7 624.5,338.3 625.8,335 627,331.6 628.3,330 629.5,331 630.8,332.5 632,333.5 633.3,334.2 634.4,333.9 635.6,332.8 636.7,330.8 638,333.7 639.2,336.7 640.5,337.8 641.7,339.2 643,338 644.2,338.3 645.5,340.7 646.7,342.5 647.8,342.2 648.9,342.4 650,343.3 651.1,343.3 652.2,344.1 653.3,345.8 654.4,345.6 655.6,344.1 656.7,344.2 657.8,346.1 658.9,345.7 660,347.5 661.1,348.2 662.2,346.8 663.3,347.5 664.4,346.4 665.6,347.4 666.7,346.7 667.8,346.8 668.9,348.2 670,348.3 671.1,347.5 672.2,347 673.3,347.5 674.4,348.8 675.6,349.6 676.7,350 678,349 679.2,346.7 680.3,345.4 681.4,342.6 682.5,341.7 683.6,344.7 684.7,347.6 685.8,350 687,348.3 688.3,346.7 689.5,345 690.8,341.7 692,339.6 693.3,338.3 694.5,334.6 695.8,329.2 697,328.3 698.3,326.7 699.5,328.7 700.8,332.5 702,332.5 703.3,334.2 704.5,333.6 705.8,332.5 707,336 708.3,338.3 709.4,340 710.6,343 711.7,345.8 713,345.4 714.2,344.2 715.5,341.5 716.7,340 718,339 719.2,336.7 720.3,337.2 721.4,337 722.5,338.3 723.8,337.3 725,336.7 726.2,337.2 727.5,337.5 728.8,341.1 730,345 731.2,347.8 732.5,350 733.8,349.8 735,350.8 736.2,350.1 737.5,348.3 738.6,348.1 739.7,348.6 740.8,348.3 741.9,349.4 743.1,349.8 744.2,350.8 745.5,348.9 746.7,347.5 747.8,348.6 748.9,349.4 750,349.2 751.1,350 752.2,349.9 753.3,350 754.4,350.2 755.6,350.3 756.7,351.7 757.8,352.3 758.9,351.5 760,350.8 761.1,351.7 762.2,351.1 763.3,351.7 764.4,351.6 765.6,352 766.7,350.8 767.8,350.6 768.9,349.3 770,348.3 771.2,348.8 772.5,350 773.6,349 774.7,349 775.8,347.5 777,345.6 778.3,344.2 779.4,344.2 780.6,343.8 781.7,343.3 783,343.2 784.2,341.7 785.5,343.1 786.7,343.3 788.3,350 789.5,350.5 790.8,351.7 791.9,351.3 793.1,352.3 794.2,353.3 795.5,356.5 796.7,360 798.3,366.7 799.5,369.4 800.8,371.7 802,373.1 803.3,373.3 804.5,371.5 805.8,368.3 806.9,367.2 808.1,368.4 809.2,367.5 810.3,368.3 811.4,368.7 812.5,368.3 813.6,367.9 814.7,366.8 815.8,366.7 816.9,367.6 818.1,367.8 819.2,367.5 820.3,368.4 821.4,369.4 822.5,369.2 823.6,368.6 824.7,367.9 825.8,368.3 827.5,373.3 829.2,380.8 830.5,377.1 831.7,373.3 833,372.2 834.2,370 835.3,368.9 836.4,369.3 837.5,368.3 838.6,369.4 839.7,368.4 840.8,369.2 841.9,370.5 843.1,371.7 844.2,372.5 845.5,371.2 846.7,370 848,367.4 849.2,365.8 850.3,363.7 851.4,362.9 852.5,360.8 853.6,361.1 854.7,360.2 855.8,360 857.2,359.3 858.6,360.6 860,360 861.1,360.5 862.2,359.5 863.3,360 864.4,357.6 865.6,355.7 866.7,352.5 868,356.6 869.2,359.3 870.3,358.8 871.4,358.2 872.5,357.7 873.8,355.4 875,352.7 876.2,354.6 877.5,357.7 878.8,359.2 880,361.8 881.1,362.4 882.2,364.4 883.3,365.2 884.5,364.5 885.8,364.3 886.9,362.7 888.1,360.8 889.2,359.3 890.3,360.5 891.4,360.9 892.5,362.7 893.6,362.7 894.7,365.3 895.8,365.2 896.9,365.2 898.1,365 899.2,366 900.3,365.1 901.4,364.3 902.5,362.7 903.6,363.7 904.7,366.2 905.8,367.7 906.9,368.3 908.1,369.4 909.2,370.2 910.3,369.3 911.4,369.4 912.5,370.2 913.8,369.4 915,366.8 916.2,368.7 917.5,369.3 918.8,370.5 920,371.8 921.1,371.4 922.2,370.3 923.3,370.2 924.4,371.2 925.6,371.1 926.7,371.8 927.8,372.9 928.9,372.9 930,372.7 931.1,372.7 932.2,372.4 933.3,371 934.4,370.6 935.6,370.2 936.7,371 938,371.3 939.2,372.7 940.5,371.3 941.7,371 943,367.8 944.2,366 945.5,363.9 946.7,363.5 948,364.5 949.2,365.2 950.5,364.6 951.7,362.7 953.3,357.7 954.5,358 955.8,358.5 957,358.5 958.3,356.8 960,361.8 961.2,360 962.5,356.8 964.2,357.7"/>
<path stroke="#7869b5" d="M106.7,358.3 107.9,358.2 109,359.8 110.2,360.2 111.3,360.3 112.5,361.7 113.6,362 114.7,360.1 115.8,360 117,363.5 118.3,366.7 119.4,372.5 120.6,378.6 121.7,383.3 122.8,386.4 123.9,388.7 125,391.7 126.2,387.4 127.5,383.3 128.6,383.3 129.7,385.3 130.8,385 132.1,383.4 133.3,380 134.6,381.1 135.8,383.3 137.1,378.7 138.3,375.4 139.6,371.8 140.8,368.3 141.9,370.7 143.1,372.4 144.2,373.3 145.3,372.2 146.4,369.2 147.5,368.3 148.8,365.5 150,361.7 151.1,360.4 152.2,358.6 153.3,356.7 154.7,356.4 156.1,353.6 157.5,353.3 158.6,350.5 159.7,349.4 160.8,346.7 162.1,347 163.3,345.8 164.6,348.2 165.8,350 167.2,345.2 168.6,341.3 170,336.7 171.2,337.6 172.5,337.5 174.2,344.2 175.3,343.2 176.4,343.3 177.5,343.3 178.8,350.4 180,358.3 181.1,356 182.2,354.9 183.3,353.3 184.4,349.9 185.6,347.3 186.7,345 188.1,342.1 189.4,340.9 190.8,338.3 192.5,342.5 193.6,340.8 194.7,341.2 195.8,340 197.1,343.6 198.3,348.3 199.4,346.6 200.6,347.4 201.7,345.8 202.8,347.3 203.9,350.5 205,351.7 206.1,351.5 207.2,350.7 208.3,349.2 209.4,346.9 210.6,345.8 211.7,344.2 212.8,344 213.9,346 215,345.8 216.2,351.9 217.5,356.7 218.8,355.2 220,353.3 221.2,349.1 222.5,345 223.8,346 225,347.5 226.1,350.8 227.2,353 228.3,355.8 229.4,356.9 230.6,356.8 231.7,358.3 233.3,356.7 234.4,357.3 235.6,358.1 236.7,360 237.8,358.7 238.9,356.8 240,355 241.2,350.6 242.5,347.5 243.8,348.6 245,348.3 246.1,349.3 247.2,350.9 248.3,352.5 249.6,351.5 250.8,351.7 252.1,348.8 253.3,346.7 254.4,349 255.6,349.7 256.7,351.7 257.9,351.9 259.2,353.3 260.3,351.4 261.4,349.1 262.5,347.5 263.8,347 265,345 266.1,346.2 267.2,349.7 268.3,350.8 269.6,351.3 270.8,353.3 271.9,352.9 273.1,351.4 274.2,350 275.4,344.9 276.7,340.8 277.9,338.7 279.2,336.7 280.4,336.3 281.7,336.7 282.8,332.1 283.9,327.8 285,324.2 286.2,320.2 287.5,316.7 288.8,315.9 290,313.3 291.2,315.4 292.5,315.8 293.3,316.7 294.6,314.5 295.8,310.8 297.1,311.3 298.3,313.3 300,320.8 301.1,322.1 302.2,324.8 303.3,325.8 304.6,321.3 305.8,318.3 307.5,308.3 308.6,309.3 309.7,309.1 310.8,310 312.5,296.7 313.8,295.9 315,293.3 316.7,285 317.9,276.6 319.2,270 320.3,269.2 321.4,266.9 322.5,265.8 323.8,261.4 325,258.3 326.2,251.2 327.5,245.8 328.6,246.7 329.7,246.4 330.8,246.7 332.1,243.2 333.3,240.8 334.6,245.3 335.8,250 336.9,249.3 338.1,246.7 339.2,245.8 340.8,246.7 342.5,270 344.2,283.3 345.8,290 347.5,288.3 349.2,271.7 350.4,268.1 351.7,264.2 352.9,266.4 354.2,270 355.4,268.2 356.7,267.5 358.3,280 360,274.2 361.2,275.5 362.5,275.8 364.2,290.8 365.8,283.3 367.1,284.1 368.3,284.2 370,280 371.2,280.7 372.5,282.5 373.8,284.6 375,288.3 376.2,285.9 377.5,285 378.8,282.7 380,280 381.2,280.8 382.5,281.7 384.2,280 385.4,281.2 386.7,283.3 387.9,280.3 389.2,278.3 390.8,270.8 392.1,273.1 393.3,275 395,293.3 396.7,301.7 398.3,299.2 399.6,304.1 400.8,308.3 402.1,313.1 403.3,316.7 405,325 406.2,322.6 407.5,320 408.8,322 410,325 411.2,328.4 412.5,333.3 413.8,331.2 415,328.3 416.2,329 417.5,330 418.8,326.6 420,322.5 421.1,318.6 422.2,316.9 423.3,313.3 424.6,314.7 425.8,316.7 427.1,315.2 428.3,312.5 429.4,314.6 430.6,315.3 431.7,316.7 432.9,315.8 434.2,316.7 435.3,317.4 436.4,316.7 437.5,316.7 438.8,320.7 440,323.3 441.1,324 442.2,325 443.3,326.7 444.4,326.2 445.6,324.2 446.7,323.3 447.9,320.6 449.2,319.2 450.4,320.6 451.7,322.5 452.8,325.2 453.9,326.6 455,330 456.2,333.8 457.5,337.5 458.8,335.3 460,333.3 461.2,325.8 462.5,318.3 463.6,316 464.7,315.4 465.8,313.3 466.9,315.5 468.1,317.3 469.2,318.3 470.3,317.4 471.4,317.6 472.5,316.7 473.8,318.1 475,320 476.1,322.1 477.2,322.5 478.3,325 479.4,327.9 480.6,330.3 481.7,331.7 482.9,331.7 484.2,331.7 485.8,335 486.9,332 488.1,328.9 489.2,325.8 490.4,324.2 491.7,322.5 492.9,324.1 494.2,327.5 495.4,330.8 496.7,332.5 497.9,331.6 499.2,331.7 500.4,334 501.7,337.5 502.9,337.6 504.2,339.2 505.4,336.3 506.7,334.2 507.8,335.3 508.9,334.4 510,335.8 511.2,335.9 512.5,337.5 513.8,336.2 515,334.2 516.2,331.2 517.5,329.2 518.8,332.9 520,338.3 521.2,339.3 522.5,340 524.2,348.3 525.3,348.7 526.4,348.9 527.5,349.2 528.8,348.3 530,346.7 531.2,348.5 532.5,351.7 533.8,354.4 535,355.8 536.2,354.5 537.5,352.5 538.8,348.8 540,346.7 541.2,343.1 542.5,340.8 543.8,338.7 545,336.7 546.2,336.3 547.5,335.8 548.8,332.1 550,329.2 551.2,330.6 552.5,333.3 553.8,335.2 555,337.5 556.2,334.7 557.5,333.3 558.6,334.6 559.7,336.2 560.8,336.7 562,334.8 563.3,334.2 564.4,333.2 565.6,332.4 566.7,330.8 567.8,331 568.9,333.1 570,333.3 571.2,332.8 572.5,330.8 573.8,332.3 575,334.2 576.2,336.1 577.5,338.3 578.8,335.6 580,331.7 581.2,330.9 582.5,330 583.6,329 584.7,329.1 585.8,327.5 586.9,327.4 588.1,326.1 589.2,325.8 590.3,324 591.4,322.8 592.5,321.7 593.8,323.6 595,325.8 596.2,325.9 597.5,324.2 598.8,327.6 600,330 601.2,332.8 602.5,334.2 603.8,332.7 605,330 606.2,326.9 607.5,322.5 608.8,319.6 610,318.3 611.2,317.1 612.5,315.8 613.8,320 615,322.5 616.2,324.5 617.5,325 618.8,319.5 620,315 621.7,310.8 623.3,319.2 624.4,320.2 625.6,321.6 626.7,322.5 628,320.2 629.2,318.3 630.5,310.9 631.7,303.3 633,301.7 634.2,301.7 635.5,299.9 636.7,298.3 638,295.4 639.2,292.5 640.5,290.8 641.7,290.8 643,291.4 644.2,293.3 645.5,293.7 646.7,292.5 648,299.2 649.2,305 650.5,311.2 651.7,315.8 653,314 654.2,311.7 655.5,309.8 656.7,306.7 657.8,307.1 658.9,306.8 660,305.8 661.2,307.9 662.5,311.7 663.8,313.6 665,315 666.1,312.3 667.2,310.9 668.3,308.3 669.5,311.6 670.8,315.8 671.9,312.3 673.1,309.4 674.2,305 675.5,304.8 676.7,304.2 678,305.4 679.2,307.5 680.8,300.8 682,298.3 683.3,295.8 684.5,294.4 685.8,293.3 687,291.6 688.3,288.3 689.4,287.7 690.6,287.4 691.7,287.5 692.8,288 693.9,287.4 695,288.3 696.2,292.2 697.5,295.8 699.2,300.8 700.5,300.8 701.7,299.2 702.8,299.5 703.9,299.3 705,300 706.2,300.8 707.5,301.7 708.8,301.3 710,300.8 711.2,303.1 712.5,306.7 713.8,307.7 715,310 716.2,307.2 717.5,305.8 718.8,304.6 720,304.2 721.1,304 722.2,303.8 723.3,304.2 724.5,302.9 725.8,302.5 727.5,292.5 729.2,299.2 730.5,299.7 731.7,301.7 733,300.9 734.2,300 735.5,302.7 736.7,304.2 738,305.2 739.2,305.8 740.8,309.2 742.5,302.5 743.8,300.5 745,298.3 746.2,297.3 747.5,295.8 748.8,296.1 750,297.5 751.2,295.8 752.5,293.3 753.8,292.8 755,292.5 756.2,291.3 757.5,290 758.8,294.4 760,298.3 761.2,296.2 762.5,294.2 763.6,293.9 764.7,293.7 765.8,294.2 766.9,293.4 768.1,293.6 769.2,293.3 770.8,288.3 772,286.4 773.3,285 774.5,289.3 775.8,293.3 777,294.1 778.3,296.7 779.5,298.9 780.8,301.7 782,303.6 783.3,304.2 784.4,303.7 785.6,304.3 786.7,304.2 788.3,297.5 790,288.3 791.7,281.7 793,282.9 794.2,284.2 795.5,283.4 796.7,283.3 798,285.9 799.2,286.7 800.5,288 801.7,290 803,290.1 804.2,289.2 805.5,291.9 806.7,295.8 808,296.3 809.2,298.3 810.5,301.1 811.7,302.5 813,304.5 814.2,306.7 815.5,307.6 816.7,310 818.3,299.2 819.5,306 820.8,313.3 822,314.9 823.3,316.7 824.4,317.4 825.6,316.5 826.7,317.5 827.8,317.8 828.9,320 830,320 831.2,320.8 832.5,320.8 833.8,318.1 835,316.7 836.2,316 837.5,315.8 838.6,314.2 839.7,313.4 840.8,311.7 842,310.7 843.3,309.2 844.5,312.7 845.8,315 847,315.2 848.3,314.2 849.5,310 850.8,305.8 852,305.4 853.3,304.2 854.5,302.9 855.8,300.8 857.5,293.3 858.8,296.7 860,299.2 861.2,300.8 862.5,302.5 863.8,304.3 865,305 866.2,306.6 867.5,307.5 869.2,304.3 870.8,295.2 872,295.5 873.3,294.3 874.5,294.9 875.8,296.8 877,297.9 878.3,297.7 880,307.7 881.2,303.5 882.5,301 883.8,301.9 885,301.8 886.2,301.2 887.5,300.2 888.8,298.9 890,297.7 891.2,298.9 892.5,298.5 893.8,297 895,295.2 896.7,302.7 898,299.6 899.2,296.8 900.8,296 902,300.7 903.3,304.3 904.5,308.3 905.8,311 907,314.5 908.3,317.7 910,320.2 911.2,317.9 912.5,316 913.8,317.2 915,318.5 916.2,317.2 917.5,316 918.8,313.9 920,311 921.2,307.7 922.5,305.2 923.8,304.6 925,304.3 926.2,305.2 927.5,306 928.8,304.5 930,303.5 931.7,293.5 933.3,296.8 935,302.7 936.2,304.4 937.5,306.8 938.8,304.8 940,301.8 941.2,299.1 942.5,295.2 943.8,290.2 945,285.2 946.2,281.3 947.5,277.7 949.2,271.8 950.8,278.5 952.5,276.8 953.8,283.3 955,291 956.7,281.8 958,281 959.2,281 960.8,274.3 962.5,280.2 963.8,280.4 965,281.8"/>
<path stroke="#fdb01e" d="M106.8,358 108.3,357 110,360.3 111.7,366.7 113,370.1 114.2,373.3 115.5,376.8 116.7,380 118,383.4 119.2,388.3 120.5,391.6 121.7,393.3 123,396.7 124.2,400.8 125.5,399.4 126.7,396.7 127.9,397.7 129.2,397.5 130.3,396.4 131.4,393.1 132.5,391.7 133.8,392.4 135,393.3 136.2,392 137.5,389.2 138.6,386.9 139.7,385.6 140.8,385 142.1,383 143.3,380.8 144.4,381.1 145.6,382.2 146.7,381.7 147.9,381.3 149.2,380 150.4,378 151.7,375.8 152.8,375.6 153.9,373.6 155,372.5 156.2,372.1 157.5,371.7 158.8,369.9 160,367.5 161.2,370.2 162.5,373.3 163.8,375.5 165,378.3 166.2,376.4 167.5,374.2 168.8,371.8 170,370 171.2,374.2 172.5,376.7 173.8,375.3 175,373.3 176.2,374.6 177.5,375.8 178.8,370.9 180,367.5 181.2,369.8 182.5,372.5 183.8,375.2 185,378.3 186.2,374.3 187.5,370 188.6,370.1 189.7,370.7 190.8,370 192.1,370.4 193.3,369.2 194.6,371.7 195.8,374.2 197.5,383.3 198.8,385.7 200,388.3 201.2,389.4 202.5,390 203.8,395 205,398.3 206.2,397.6 207.5,397.5 208.8,396.7 210,395.8 211.2,394.3 212.5,391.7 213.8,391.9 215,393.3 216.2,392.6 217.5,392.5 218.8,394.6 220,395 221.2,395.6 222.5,395 223.8,394.2 225,393.3 226.2,392.2 227.5,392.5 228.8,395.3 230,396.7 231.1,398.1 232.2,399.5 233.3,400 234.6,399.6 235.8,397.5 237.1,397.3 238.3,395.8 239.6,391.9 240.8,388.3 242.1,383.5 243.3,380 244.6,376.3 245.8,373.3 247.1,375.4 248.3,377.5 249.6,375.9 250.8,374.2 251.9,372.5 253.1,371.4 254.2,370.8 255.3,369.9 256.4,368.8 257.5,367.5 258.8,368.5 260,370 261.1,371.2 262.2,370.8 263.3,370.8 264.4,369.7 265.6,370.1 266.7,370 267.8,370 268.9,368.5 270,368.3 271.1,368.4 272.2,366.9 273.3,367.5 275,359.2 276.2,356.7 277.5,355 278.8,358.1 280,360 281.1,362.4 282.2,364.8 283.3,366.7 284.6,365.3 285.8,365 287.1,367.9 288.3,370.8 289.6,367.1 290.8,363.3 291.9,363.7 293.1,365.2 294.2,365.8 295.4,367.1 296.7,368.3 297.8,368.9 298.9,367.9 300,367.5 301.2,363.7 302.5,360.2 303.8,355.3 305,351.8 306.7,348.3 307.8,347.1 308.9,347.7 310,346.7 311.7,339.2 312.9,337.2 314.2,336.7 315.4,339.3 316.7,343.3 317.9,344.4 319.2,346.7 320.8,350.8 321.9,348.3 323.1,346.4 324.2,343.3 325.3,343.5 326.4,343.9 327.5,343.3 328.8,347.1 330,352.5 331.2,353.7 332.5,356.7 333.8,360.5 335,363.3 336.2,363.5 337.5,364.3 338.8,357.2 340,349.3 340,346.7 341.2,343.5 342.5,340.8 343.8,345.7 345,351.7 346.2,348.8 347.5,346.7 348.8,341.8 350,338.3 351.2,338.2 352.5,336.7 353.8,339.3 355,341.7 356.2,343.1 357.5,345 358.6,345.7 359.7,346.5 360.8,347.5 361.9,346.4 363.1,347.7 364.2,346.7 365.4,344.3 366.7,341.7 367.9,340 369.2,336.7 370.4,334.5 371.7,332.5 372.9,332.3 374.2,331.7 375.4,329.5 376.7,328.3 377.8,328.9 378.9,331.9 380,332.5 381.2,334 382.5,334.2 383.8,332.6 385,331.7 386.2,334.1 387.5,335 388.6,336.7 389.7,336.8 390.8,338.3 392.1,342.7 393.3,346.7 394.7,360 395,362.7 396.7,367.7 397.8,368 398.9,366.6 400,366 401.1,369.3 402.2,370.5 403.3,373.5 404.6,367.1 405.8,361 406.9,362 408.1,361.6 409.2,362.7 410.3,364.6 411.4,367.8 412.5,369.3 413.8,366.4 415,363.5 416.1,364.6 417.2,364.2 418.3,365.2 419.4,363.8 420.6,363.3 421.7,362.7 422.8,364.6 423.9,368.5 425,370.2 426.2,366.9 427.5,364.3 428.6,364.1 429.7,363.1 430.8,363.5 431.9,363.3 433.1,362.8 434.2,362.7 435.3,362.5 436.4,361.9 437.5,362.7 438.8,366.2 440,371 441.2,366.6 442.5,361 443.8,354.9 445,349.3 446.2,353.8 447.5,359.3 448.8,362.9 450,367.7 451.2,366.9 452.5,366.8 453.8,364.3 455,362.7 456.2,361 457.5,361 458.6,362.7 459.7,363.5 460.8,365.2 462.1,364.1 463.3,364.3 464.4,366.3 465.6,366.9 466.7,369.3 467.9,371 469.2,373.5 470.8,362.7 472.1,360 473.3,356 474.6,356.2 475.8,357.7 476.9,356.2 478.1,355.5 479.2,353.5 480.3,354.6 481.4,354 482.5,355.2 483.6,356 484.7,357.8 485.8,358.5 486.7,360.8 487.8,361.4 488.9,363.3 490,363.3 491.1,363.6 492.2,365.8 493.3,365.8 494.4,366.6 495.6,367 496.7,368.3 497.8,367.1 498.9,365.4 500,365 501.1,364.8 502.2,363.4 503.3,363.3 504.4,364.3 505.6,364.1 506.7,364.2 507.8,366.2 508.9,368.1 510,370.8 511.1,371.3 512.2,370.9 513.3,371.7 514.4,372.4 515.6,371 516.7,371.7 517.8,370.3 518.9,369 520,367.5 521.1,365.4 522.2,364.7 523.3,362.5 524.5,360.2 525.8,358.3 527,357.3 528.3,355.8 529.5,358.9 530.8,361.7 532,362.6 533.3,364.2 534.4,363.2 535.6,361.8 536.7,361.7 537.8,360.8 538.9,361.7 540,360.8 541.1,361 542.2,362.2 543.3,362.5 544.4,362.4 545.6,363.7 546.7,364.2 547.8,362.8 548.9,361.9 550,360.8 551.1,360.4 552.2,360 553.3,360.8 554.4,361.9 555.6,363.1 556.7,365 557.8,365.2 558.9,367.1 560,367.5 561.1,367.7 562.2,368.5 563.3,369.2 565,370.8 566.2,369.5 567.5,366.7 568.6,367.7 569.7,368.5 570.8,368.3 571.9,369.5 573.1,368.8 574.2,370 575.5,370 576.7,370.8 578,368.3 579.2,367.5 580.3,368.7 581.4,369.5 582.5,370 583.6,370.3 584.7,371 585.8,371.7 586.9,372.3 588.1,372.6 589.2,372.5 590.6,372.9 591.9,374.8 593.3,375 594.5,372.2 595.8,370 597,365.6 598.3,360.8 600,370 601.2,367.3 602.5,365.8 604.2,357.5 605.5,357.2 606.7,358.3 608.3,365.8 609.4,368.2 610.6,369.6 611.7,370.8 613,370.8 614.2,370 615.5,374.2 616.7,380 618,385.8 619.2,393.3 620.8,396.7 622,391.9 623.3,388.3 625,375.8 626.7,376.7 627.5,390 628.8,392.8 630,396.7 631.1,397.4 632.2,398.7 633.3,400 634.4,400.8 635.6,403 636.7,405 637.8,406.9 638.9,407.8 640,410 641.1,410.9 642.2,410.7 643.3,410.8 644.5,406.2 645.8,400.8 647,400 648.3,400 649.5,400.7 650.8,401.7 652,407 653.3,411.7 654.4,412 655.6,411.9 656.7,413.3 657.8,415.3 658.9,416.6 660,417.5 661.2,416.7 662.5,416.7 663.8,418.4 665,421.7 666.7,427.5 668.3,440 669.5,447.3 670.8,453.3 672.5,441.7 673.8,444.4 675,446.7 676.2,445.4 677.5,445.8 678.8,448.3 680,451.7 681.2,453.5 682.5,456.7 683.8,456.4 685,455 686.7,466.7 688,464.9 689.2,464.2 690.5,460.3 691.7,455 693,448.8 694.2,441.7 695.5,435.5 696.7,430.8 698,429.9 699.2,428.3 700.5,428.6 701.7,429.2 703,436.7 704.2,443.3 705.5,442.6 706.7,440.8 708,441.7 709.2,443.3 710.5,444.7 711.7,447.5 713,440.8 714.2,432.5 715.5,432 716.7,431.7 718,437.5 719.2,441.7 720.5,449.1 721.7,455.8 723,454.2 724.2,451.7 725.5,448.1 726.7,443.3 728,441 729.2,438.3 730.5,434.9 731.7,431.7 733,432.5 734.2,435 735.5,437.5 736.7,439.2 738,440.3 739.2,441.7 740.5,443.4 741.7,445 743,447.9 744.2,449.2 745.5,445.6 746.7,443.3 748,442.5 749.2,440.8 750.5,439.6 751.7,440 753,442.5 754.2,444.2 755.5,448.1 756.7,450.8 757.8,450.1 758.9,450.4 760,450 761.2,454.2 762.5,456.7 763.6,457.2 764.7,457.3 765.8,457.5 766.9,456.5 768.1,455.6 769.2,455.8 770.5,457.6 771.7,460 772.8,461.2 773.9,462.3 775,464.2 776.1,463.6 777.2,462.9 778.3,463.3 779.4,465.3 780.6,466.9 781.7,468.3 782.8,468.7 783.9,469.5 785,470.8 786.1,472 787.2,473 788.3,474.2 789.5,479.5 790.8,483.3 792,485.5 793.3,488.3 794.4,489.9 795.6,492.9 796.7,494.2 798,494.8 799.2,496.7 800.5,500.1 801.7,503.3 803,500.5 804.2,498.3 805.5,495.1 806.7,490.8 808,487.6 809.2,484.2 810.5,485.5 811.7,485.8 813,487.7 814.2,490.8 815.3,493.1 816.4,494.9 817.5,496.7 818.8,494.5 820,492.5 821.1,493 822.2,493.1 823.3,492.5 824.5,494.7 825.8,498.3 827,501.7 828.3,505.8 830,510 831.2,506 832.5,502.5 834.2,500.8 835.5,504 836.7,508.3 838,511.7 839.2,516.7 840.5,518 841.7,520 843.3,530 844.2,536.7 845.8,550.8 847,548.2 848.3,546.7 849.5,545.8 850.8,544.2 852,539.5 853.3,535 854.5,532.2 855.8,530.8 857,530.9 858.3,531.7 859.5,525.4 860.8,519.2 862,518.5 863.3,518.3 864.4,518.8 865.6,519.8 866.7,521.7 868,522.5 869.2,525 870.5,520.5 871.7,514.2 873,510.5 874.2,505.8 875.5,504.3 876.7,504.2 878,500.8 879.2,496.7 880.8,502.5 882,501.7 883.3,499.2 884.5,500.6 885.8,501.7 887,500.1 888.3,500 889.5,502.1 890.8,504.2 892.5,508.3 894.2,507.5 895.5,509.5 896.7,511.7 898,509.4 899.2,508.3 900.5,506.3 901.7,504.2 903,502.5 904.2,502.5 905.3,503.3 906.4,502.8 907.5,502.5 908.8,500.6 910,498.3 911.2,496.2 912.5,492.5 913.8,493.6 915,494.2 916.2,493.3 917.5,493.3 918.8,494.9 920,497.5 921.2,497.2 922.5,498.3 923.8,499.1 925,501.7 926.2,504.2 927.5,505.8 928.8,506.9 930,506.7 931.1,506.9 932.2,507.2 933.3,508.3 934.5,506.5 935.8,504.2 937,501.9 938.3,498.3 939.5,495.3 940.8,490.8 942,489 943.3,488.3 944.5,489.3 945.8,489.2 947,492.3 948.3,494.2 949.5,493.4 950.8,491.7 952,491.8 953.3,492.5 954.5,488.2 955.8,485 957,482.7 958.3,479.2 959.5,480.9 960.8,483.3 961.9,483.6 963.1,484.5 964.2,485"/>
</g>
</svg>
<div class="t" style="left:61px;top:116.6px;font-size:22.5px;letter-spacing:0.2px;-webkit-text-stroke:0.2px #231f20;">Ratio</div>
<div class="t ax" style="left:60.2px;top:148.2px;">1.6</div>
<div class="t ax" style="left:60.2px;top:214.2px;">1.4</div>
<div class="t ax" style="left:60.2px;top:281.2px;">1.2</div>
<div class="t ax" style="left:60.2px;top:347.2px;">1.0</div>
<div class="t ax" style="left:60.2px;top:414.2px;">0.8</div>
<div class="t ax" style="left:60.2px;top:480.2px;">0.6</div>
<div class="t ax" style="left:60.2px;top:546.2px;">0.4</div>
<div class="t ax" style="left:60.2px;top:612.2px;">0.2</div>
<div class="t ax" style="left:248.5px;top:657.4px;letter-spacing:0.55px;">2001</div>
<div class="t ax" style="left:578.5px;top:657.4px;letter-spacing:0.55px;">2002</div>
<div class="t ax" style="left:908.5px;top:657.4px;letter-spacing:0.55px;">2003</div>
<div class="sw" style="left:26.7px;background:#045886;"></div><div class="t lg" style="left:57.5px;letter-spacing:-0.15px;">Australia</div>
<div class="sw" style="left:171px;background:#a1b9c9;"></div><div class="t lg" style="left:202px;letter-spacing:0.27px;">Australia (excluding AMP)</div>
<div class="sw" style="left:481px;background:#fdb01e;"></div><div class="t lg" style="left:511px;letter-spacing:0.5px;">Germany</div>
<div class="sw" style="left:631px;background:#7869b5;"></div><div class="t lg" style="left:661px;letter-spacing:0.1px;">Japan</div>
<div class="sw" style="left:744px;background:#c6b87f;"></div><div class="t lg" style="left:775px;letter-spacing:-1.2px;">UK</div>
<div class="sw" style="left:838px;background:#b80c16;"></div><div class="t lg" style="left:868.5px;letter-spacing:-1.2px;">US</div>
<div class="t lg" style="left:26px;top:782.6px;letter-spacing:0.35px;">Source:</div><div class="t lg" style="left:113px;top:782.6px;letter-spacing:0.5px;">Bloomberg</div>
</body></html>
